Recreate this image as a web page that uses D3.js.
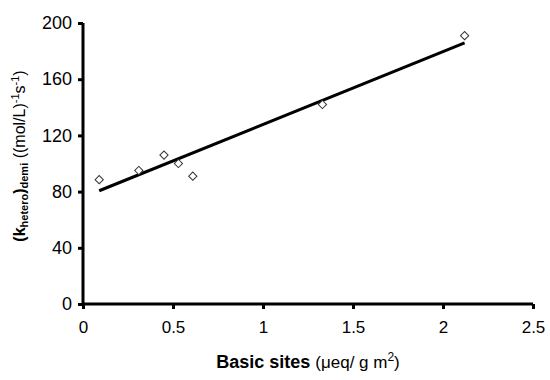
<!DOCTYPE html>
<html>
<head>
<meta charset="utf-8">
<script src="https://cdn.jsdelivr.net/npm/d3@7"></script>
<style>
  body { margin: 0; background: #fff; }
  svg text { font-family: "Liberation Sans", Arial, sans-serif; fill: #000; }
</style>
</head>
<body>
<div id="chart"></div>
<script>
// measured points
var basicSites = [0.09, 0.31, 0.45, 0.53, 0.61, 1.33, 2.12];
var kHetero    = [88.5, 95, 106, 100, 91, 142, 191];
var xTicks = [0, 0.5, 1, 1.5, 2, 2.5];
var yTicks = [0, 40, 80, 120, 160, 200];

var W = 550, H = 380;
var margin = {top: 23, right: 17, bottom: 76, left: 83},
    width = W - margin.left - margin.right,
    height = H - margin.top - margin.bottom;

var svg = d3.select("#chart").append("svg")
    .attr("width", W)
    .attr("height", H)
    .append("g")
    .attr("transform", "translate(" + margin.left + "," + margin.top + ")");

var xScale = d3.scaleLinear().domain([0, 2.5]).range([0, width]);
var yScale = d3.scaleLinear().domain([0, 200]).range([height, 0]);

// linear trendline (least squares, like the spreadsheet)
var mx = d3.mean(basicSites), my = d3.mean(kHetero);
var sxy = 0, sxx = 0;
for (var i = 0; i < basicSites.length; i++) {
  sxy += (basicSites[i] - mx) * (kHetero[i] - my);
  sxx += (basicSites[i] - mx) * (basicSites[i] - mx);
}
var slope = sxy / sxx, icpt = my - slope * mx;
var xmin = d3.min(basicSites), xmax = d3.max(basicSites);
var fit = [{a: xmin, b: icpt + slope * xmin}, {a: xmax, b: icpt + slope * xmax}];

var asse_x = d3.axisBottom(xScale).tickValues(xTicks).tickSize(5).tickPadding(12)
    .tickFormat(function(d) { return d; });
var asse_y = d3.axisLeft(yScale).tickValues(yTicks).tickSize(5).tickPadding(6);

var xAxisGroup = svg.append("g")
    .attr("transform", "translate(0," + height + ")")
    .call(asse_x);
var yAxisGroup = svg.append("g")
    .call(asse_y);

[xAxisGroup, yAxisGroup].forEach(function(g) {
  g.select(".domain").attr("stroke", "#000").attr("stroke-width", 3);
  g.selectAll(".tick line").attr("stroke", "#000").attr("stroke-width", 3);
});
xAxisGroup.selectAll("text").attr("font-size", 17).attr("fill", "#111");
yAxisGroup.selectAll("text").attr("font-size", 18).attr("fill", "#111");
// domain without outer end caps
xAxisGroup.select(".domain").attr("d", "M0,0H" + width);
yAxisGroup.select(".domain").attr("d", "M0," + height + "V0");

var line = d3.line()
    .x(function(d) { return xScale(d.a); })
    .y(function(d) { return yScale(d.b); });

svg.append("path")
    .datum(fit)
    .attr("d", line)
    .attr("stroke", "#000")
    .attr("stroke-width", 3)
    .attr("fill", "none");

var sym = d3.symbol().type(d3.symbolSquare).size(34);
svg.selectAll(".pt")
    .data(basicSites)
    .enter().append("path")
    .attr("class", "pt")
    .attr("d", sym)
    .attr("transform", function(d, i) {
      return "translate(" + xScale(d) + "," + yScale(kHetero[i]) + ") rotate(45)";
    })
    .attr("fill", "#fff")
    .attr("stroke", "#333")
    .attr("stroke-width", 1);

// x axis title
var xt = svg.append("text")
    .attr("x", 225)
    .attr("y", height + 64)
    .attr("text-anchor", "middle")
    .attr("font-size", 17);
xt.append("tspan").attr("font-weight", "bold").attr("font-size", 18).text("Basic sites ");
xt.append("tspan").text("(\u03bceq/ g m");
xt.append("tspan").attr("font-size", 12).attr("dy", -7).text("2");
xt.append("tspan").attr("dy", 7).text(")");

// y axis title
var yt = svg.append("text")
    .attr("transform", "translate(" + (-58) + "," + 133 + ") rotate(-90)")
    .attr("text-anchor", "middle")
    .attr("font-size", 16);
yt.append("tspan").attr("font-weight", "bold").text("(k");
yt.append("tspan").attr("font-weight", "bold").attr("font-size", 11).attr("dy", 3).text("hetero");
yt.append("tspan").attr("font-weight", "bold").attr("dy", -3).text(")");
yt.append("tspan").attr("font-weight", "bold").attr("font-size", 11).attr("dy", 3).text("demi");
yt.append("tspan").attr("dy", -3).text(" ((mol/L)");
yt.append("tspan").attr("font-size", 11).attr("dy", -6).text("-1");
yt.append("tspan").attr("dy", 6).text("s");
yt.append("tspan").attr("font-size", 11).attr("dy", -6).text("-1");
yt.append("tspan").attr("dy", 6).text(")");
</script>
</body>
</html>
